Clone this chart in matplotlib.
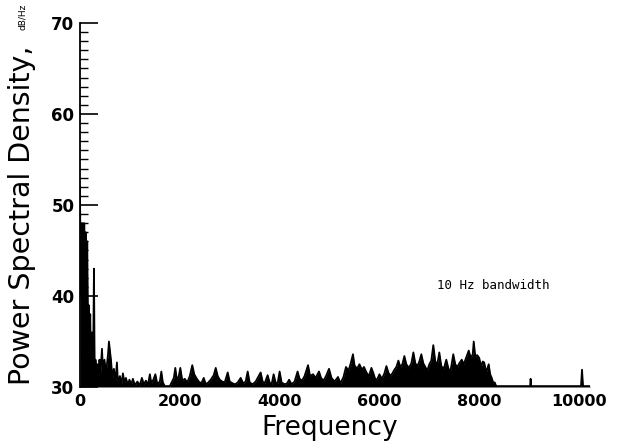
import matplotlib
matplotlib.use("Agg")
import matplotlib.pyplot as plt
from matplotlib.ticker import MultipleLocator

# spectrum read at roughly 20-50 Hz steps (Hz, dB/Hz)
freq = [0, 15, 25, 40, 55, 70, 85, 100, 115, 130, 145, 160, 175, 190, 205, 220, 240, 260,
        280, 295, 310, 330, 350, 370, 390, 410, 440, 460, 490, 520, 560, 580, 600, 620,
        650, 680, 710, 740, 760, 800, 830, 860, 890, 920, 960, 990, 1030, 1060, 1100, 1150,
        1200, 1240, 1280, 1320, 1360, 1400, 1430, 1470, 1510, 1550, 1600, 1630, 1660, 1700,
        1760, 1800, 1880, 1910, 1940, 1980, 2010, 2050, 2100, 2150, 2200, 2250, 2290, 2330,
        2380, 2430, 2480, 2520, 2570, 2620, 2680, 2720, 2760, 2800, 2850, 2900, 2960, 3000,
        3060, 3110, 3160, 3220, 3270, 3320, 3360, 3400, 3460, 3520, 3580, 3620, 3660, 3700,
        3760, 3800, 3840, 3880, 3920, 3960, 4000, 4040, 4100, 4150, 4190, 4240, 4300, 4360,
        4400, 4450, 4500, 4570, 4610, 4670, 4720, 4790, 4830, 4880, 4930, 4990, 5040, 5100,
        5170, 5220, 5280, 5330, 5380, 5420, 5470, 5500, 5550, 5600, 5650, 5690, 5740, 5790,
        5840, 5880, 5920, 5960, 6000, 6050, 6100, 6140, 6180, 6220, 6260, 6300, 6340, 6380,
        6420, 6460, 6500, 6540, 6590, 6640, 6680, 6720, 6760, 6800, 6840, 6880, 6920, 6960,
        7000, 7040, 7080, 7120, 7160, 7200, 7240, 7290, 7340, 7380, 7420, 7480, 7520, 7560,
        7600, 7650, 7690, 7730, 7790, 7830, 7870, 7890, 7920, 7960, 8000, 8040, 8070, 8100,
        8140, 8190, 8220, 8250, 8280, 8310, 8340, 9020, 9030, 9040, 10040, 10060, 10080, 10220]
psd = [52, 40, 48, 38, 48, 39, 48, 40, 47, 38, 46, 37, 39, 34, 38, 32, 36, 31,
       43, 31, 33, 31.5, 32.5, 31, 33, 31.5, 34.2, 32, 33, 31.5, 33.5, 35, 34, 33,
       31, 32, 30.5, 32.7, 30.5, 31.2, 30.3, 31.5, 30.5, 31, 30.2, 30.8, 30.3, 30.9, 30.2, 30.6,
       30.2, 31, 30.3, 30.7, 30.2, 31.4, 30.4, 30.8, 31.4, 30.3, 30.6, 31.7, 30.5, 30.1,
       30.1, 30.1, 31, 32.1, 30.8, 31.2, 32.1, 30.7, 30.9, 30.5, 31.2, 32.4, 31.4, 31,
       30.6, 30.4, 31, 30.3, 30.5, 30.8, 31.3, 32.1, 31.2, 30.8, 30.6, 30.5, 31.6, 30.6,
       30.4, 30.3, 30.5, 31, 30.4, 30.6, 31.7, 30.5, 30.3, 30.6, 31.2, 31.6, 30.6, 30.4,
       31.3, 30.5, 30.3, 31.4, 30.5, 30.4, 31.7, 30.5, 30.3, 30.4, 30.8, 30.3, 30.6, 31.7,
       30.9, 30.7, 31.2, 32.4, 31.2, 31.4, 31, 31.7, 31, 30.7, 31.2, 32, 31, 30.6,
       31.1, 30.4, 31.1, 32.2, 31.8, 32.5, 33.6, 32.4, 32, 32.5, 31.9, 32.2, 31.6, 31.2,
       32.1, 31.5, 30.8, 30.9, 31.4, 30.9, 31.5, 32.3, 31.6, 31.2, 31.5, 31.9, 32.2, 32.9,
       32.2, 32.5, 33.4, 32.5, 32.1, 32.6, 33.8, 32.6, 32.3, 32.8, 33.6, 32.6, 32.2, 31.8,
       32.5, 32.9, 34.6, 32.8, 32.5, 33.8, 32.3, 32, 33, 32.1, 31.6, 33.6, 32.5, 32.2,
       32.6, 33, 32.5, 33.1, 34, 33.2, 33.6, 35, 33.4, 33.5, 33.2, 32.2, 32.8, 32.7,
       31.6, 32.5, 31.4, 31, 30.5, 30.5, 30.1, 30.1, 30.9, 30.1, 30.1, 31.9, 30.1, 30.1]

xticks = [0, 2000, 4000, 6000, 8000, 10000]
yticks = [30, 40, 50, 60, 70]

fig = plt.figure(figsize=(6.21, 4.44), dpi=100)
ax = fig.add_axes([80 / 621, 57 / 444, 510 / 621, 364 / 444])

ax.fill_between(freq, 30, psd, color="black", linewidth=0)
ax.plot(freq, psd, color="black", linewidth=1.3)

ax.set_xlim(0, 10220)
ax.set_ylim(30, 70)

for side in ["top", "right", "bottom"]:
    ax.spines[side].set_visible(False)
ax.spines["left"].set_linewidth(1.3)

ax.set_xticks(xticks)
ax.set_yticks(yticks)
ax.yaxis.set_minor_locator(MultipleLocator(1))
ax.tick_params(axis="y", which="major", direction="in", length=13, width=1.2,
               pad=4, labelsize=12)
ax.tick_params(axis="y", which="minor", direction="in", length=6, width=1.0)
ax.tick_params(axis="x", length=0, pad=5, labelsize=11.5)
for lab in ax.get_xticklabels() + ax.get_yticklabels():
    lab.set_fontweight("bold")

fig.text(22 / 621, 0.514, "Power Spectral Density,", rotation=90,
         ha="center", va="center", fontsize=20.5)
fig.text(22 / 621, 0.962, "dB/Hz", rotation=90, ha="center", va="center", fontsize=6.5)
fig.text(330 / 621, 16 / 444, "Frequency", ha="center", va="center", fontsize=19)

ax.text(7155, 41.2, "10 Hz bandwidth", family="DejaVu Sans Mono", fontsize=9,
        ha="left", va="center")

fig.savefig("out.png", dpi=100)
